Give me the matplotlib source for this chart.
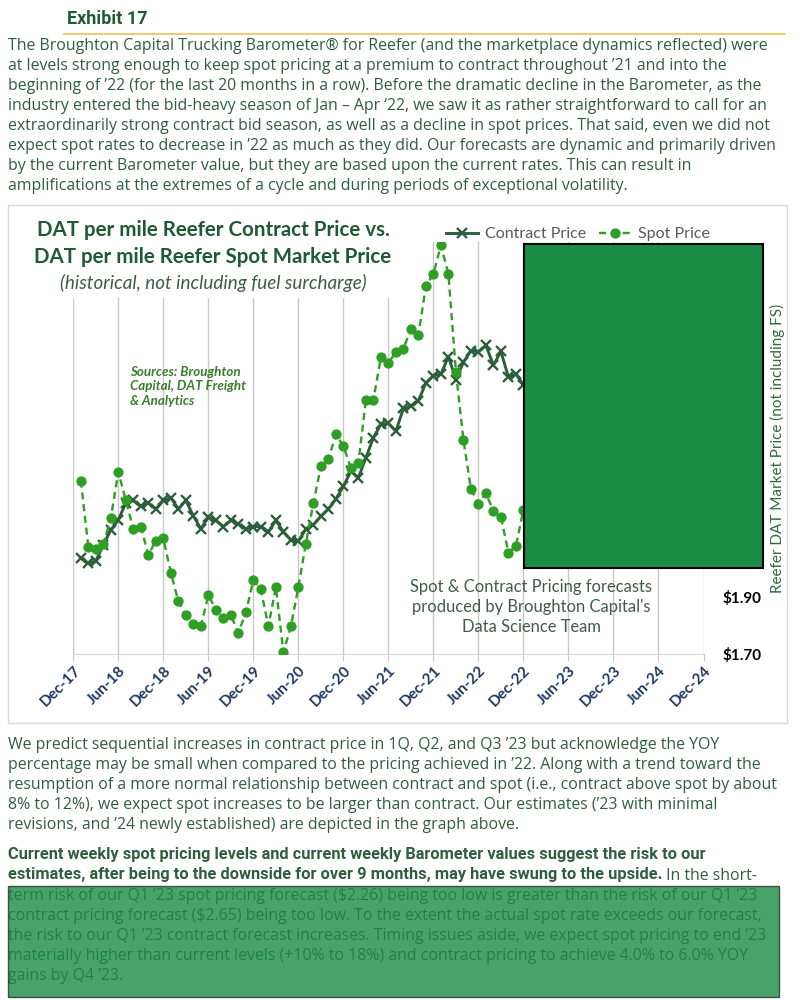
import numpy as np
import matplotlib
matplotlib.use("Agg")
import matplotlib.pyplot as plt
from matplotlib.patches import Rectangle
from matplotlib.lines import Line2D
from matplotlib import font_manager

# monthly DAT reefer prices, Jan-18 .. Dec-22
spot = [2.305, 2.075, 2.066, 2.083, 2.174, 2.336, 2.236, 2.136, 2.145, 2.045, 2.096, 2.104,
        1.984, 1.884, 1.835, 1.806, 1.796, 1.905, 1.855, 1.824, 1.835, 1.774, 1.845, 1.958,
        1.926, 1.796, 1.934, 1.706, 1.796, 1.934, 2.085, 2.227, 2.355, 2.379, 2.467, 2.426,
        2.350, 2.367, 2.587, 2.587, 2.736, 2.716, 2.753, 2.765, 2.835, 2.814, 2.985, 3.026,
        3.127, 3.026, 2.685, 2.447, 2.276, 2.225, 2.262, 2.198, 2.178, 2.054, 2.077, 2.204]
contract = [2.034, 2.016, 2.025, 2.080, 2.133, 2.168, 2.227, 2.236, 2.215, 2.227, 2.206, 2.236,
            2.245, 2.206, 2.236, 2.182, 2.137, 2.177, 2.166, 2.145, 2.166, 2.154, 2.137, 2.145,
            2.145, 2.127, 2.166, 2.127, 2.098, 2.094, 2.136, 2.151, 2.180, 2.206, 2.241, 2.285,
            2.338, 2.315, 2.385, 2.455, 2.502, 2.505, 2.478, 2.557, 2.566, 2.584, 2.646, 2.671,
            2.677, 2.738, 2.658, 2.718, 2.759, 2.754, 2.777, 2.708, 2.756, 2.666, 2.677, 2.639]
months = np.arange(1, len(spot) + 1)   # months after Dec-17

tick_labels = ["Dec-17", "Jun-18", "Dec-18", "Jun-19", "Dec-19", "Jun-20", "Dec-20", "Jun-21",
               "Dec-21", "Jun-22", "Dec-22", "Jun-23", "Dec-23", "Jun-24", "Dec-24"]
price_ticks = [1.70, 1.90, 2.10, 2.30, 2.50, 2.70, 2.90, 3.10]

para1 = [
    "The Broughton Capital Trucking Barometer® for Reefer (and the marketplace dynamics reflected) were",
    "at levels strong enough to keep spot pricing at a premium to contract throughout ’21 and into the",
    "beginning of ’22 (for the last 20 months in a row). Before the dramatic decline in the Barometer, as the",
    "industry entered the bid-heavy season of Jan – Apr ‘22, we saw it as rather straightforward to call for an",
    "extraordinarily strong contract bid season, as well as a decline in spot prices. That said, even we did not",
    "expect spot rates to decrease in ’22 as much as they did. Our forecasts are dynamic and primarily driven",
    "by the current Barometer value, but they are based upon the current rates. This can result in",
    "amplifications at the extremes of a cycle and during periods of exceptional volatility.",
]
para2 = [
    "We predict sequential increases in contract price in 1Q, Q2, and Q3 ’23 but acknowledge the YOY",
    "percentage may be small when compared to the pricing achieved in ’22. Along with a trend toward the",
    "resumption of a more normal relationship between contract and spot (i.e., contract above spot by about",
    "8% to 12%), we expect spot increases to be larger than contract. Our estimates (’23 with minimal",
    "revisions, and ’24 newly established) are depicted in the graph above.",
]
para3_bold = [
    "Current weekly spot pricing levels and current weekly Barometer values suggest the risk to our",
    "estimates, after being to the downside for over 9 months, may have swung to the upside.",
]
para3_tail = " In the short-"
para3 = [
    "term risk of our Q1 ’23 spot pricing forecast ($2.26) being too low is greater than the risk of our Q1 ’23",
    "contract pricing forecast ($2.65) being too low. To the extent the actual spot rate exceeds our forecast,",
    "the risk to our Q1 ’23 contract forecast increases. Timing issues aside, we expect spot pricing to end ’23",
    "materially higher than current levels (+10% to 18%) and contract pricing to achieve 4.0% to 6.0% YOY",
    "gains by Q4 ’23.",
]

W, H = 800, 1000
BODY = "Open Sans"
BOLD = "Roboto"
CHART = "Lato"
names = {f.name for f in font_manager.fontManager.ttflist}
EXH = "Liberation Sans Narrow" if "Liberation Sans Narrow" in names else "Roboto"

TXT = "#2f5e3f"
DKGREEN = "#1e5a32"
BOXGREEN = "#1a8c46"


def fx(px):
    return px / W


def fy(py):
    return 1 - py / H


fig = plt.figure(figsize=(8, 10), dpi=100)
fig.patch.set_facecolor("white")
renderer = fig.canvas.get_renderer()


def fit_size(s, width, family, weight="normal"):
    # font size at which s spans the given pixel width
    t = fig.text(0, 0, s, fontsize=10, family=family, weight=weight)
    w = t.get_window_extent(renderer).width
    t.remove()
    return 10 * width / w


FS = fit_size(para1[0], 760, BODY)
FSB = min(FS * 1.05, fit_size(para3_bold[0], 699, BOLD, "bold"))


def body_line(y, s, weight="normal", x=8, size=None, family=BODY):
    return fig.text(fx(x), fy(y + 4.5), s, fontsize=size or FS, family=family, color=TXT,
                    weight=weight, va="baseline", ha="left")


# header
fig.text(fx(67), fy(19), "Exhibit 17", fontsize=13, family=EXH, weight="bold",
         color="#215a2f", va="center", ha="left")
fig.add_artist(Line2D([fx(64), fx(785)], [fy(34), fy(34)], color="#f0c24b", lw=1.2))

for i, s in enumerate(para1):
    body_line(45.5 + 20.05 * i, s)

# chart frame
fig.add_artist(Rectangle((fx(8), fy(723)), fx(779), 518 / H, facecolor="white",
                         edgecolor="#d9d9d9", lw=1, zorder=-1))

ax = fig.add_axes([fx(73.3), fy(654), fx(630.2), 412 / H])
ax.set_facecolor("none")
ax.plot(months, contract, color="#2c5e3a", lw=2.1, marker="x", ms=6.5, mew=1.7,
        label="Contract Price", zorder=3)
ax.plot(months, spot, color="#2f9e25", lw=1.7, ls=(0, (3, 2)), marker="o", ms=6.4,
        label="Spot Price", zorder=4)

ax.set_xlim(0, 84)
ax.set_ylim(1.70, 3.138)
ax.set_xticks(np.arange(0, 85, 6))
ax.set_xticklabels(tick_labels, rotation=45, ha="right", va="top", rotation_mode="anchor",
                   family=CHART, weight="bold", color="#1f3864", fontsize=11)
ax.grid(axis="x", color="#c8c8c8", lw=1)
ax.tick_params(axis="x", length=5, color="#c8c8c8", pad=2)
for side in ["top", "left", "right"]:
    ax.spines[side].set_visible(False)
ax.spines["bottom"].set_color("#d9d9d9")

ax.yaxis.tick_right()
ax.set_yticks(price_ticks)
ax.set_yticklabels(["$%.2f" % v for v in price_ticks], family=CHART, weight="bold",
                   fontsize=11, color="black")
ax.tick_params(axis="y", length=0, pad=13.5)

# white block behind the chart title
fig.add_artist(Rectangle((fx(28), fy(298)), fx(368), 86 / H, facecolor="white",
                         edgecolor="none", zorder=1))
fig.text(fx(213), fy(230), "DAT per mile Reefer Contract Price vs.", fontsize=14.8,
         family=CHART, weight="bold", color=DKGREEN, ha="center", va="center", zorder=2)
fig.text(fx(213), fy(257), "DAT per mile Reefer Spot Market Price", fontsize=14.8,
         family=CHART, weight="bold", color=DKGREEN, ha="center", va="center", zorder=2)
fig.text(fx(213), fy(283), "(historical, not including fuel surcharge)", fontsize=13.6,
         family=CHART, style="italic", color="#3b5e45", ha="center", va="center", zorder=2)

fig.text(fx(130), fy(366), "Sources: Broughton\nCapital, DAT Freight\n& Analytics", fontsize=9.6,
         family=CHART, weight="bold", style="italic", color="#3a7d2c", ha="left", va="top",
         linespacing=1.25, zorder=2)

fig.legend(*ax.get_legend_handles_labels(), loc="center left",
           bbox_to_anchor=(fx(438), fy(234)), ncol=2, frameon=False,
           prop={"family": CHART, "size": 11.5}, labelcolor="#595959",
           handlelength=2.0, handletextpad=0.45, columnspacing=0.8, borderpad=0)

# covered forecast region
fig.add_artist(Rectangle((fx(524), fy(568)), fx(239), 324 / H, facecolor=BOXGREEN,
                         edgecolor="black", lw=1.5, zorder=3))

fig.text(fx(531), fy(607), "Spot & Contract Pricing forecasts\nproduced by Broughton Capital's\nData Science Team",
         fontsize=11.9, family=CHART, color="#3e5e48", ha="center", va="center",
         linespacing=1.3, zorder=2)
fig.text(fx(777), fy(448), "Reefer DAT Market Price (not including FS)", fontsize=11,
         family=CHART, color="#2f6b3c", rotation=90, ha="center", va="center")

# text below the chart
for i, s in enumerate(para2):
    body_line(744.5 + 20 * i, s)

body_line(855, para3_bold[0], weight="bold", size=FSB, family=BOLD)
b = body_line(875, para3_bold[1], weight="bold", size=FSB, family=BOLD)
bx = b.get_window_extent(renderer).x1
fig.text(bx / W, fy(875 + 4.5), para3_tail, fontsize=FS, family=BODY, color=TXT,
         va="baseline", ha="left")
for i, s in enumerate(para3):
    body_line(895 + 20 * i, s)

fig.add_artist(Rectangle((fx(7.5), fy(997)), fx(771.5), 111 / H, facecolor=BOXGREEN,
                         alpha=0.8, edgecolor="#2b2b2b", lw=1, zorder=5))

fig.savefig("out.png", dpi=100)
